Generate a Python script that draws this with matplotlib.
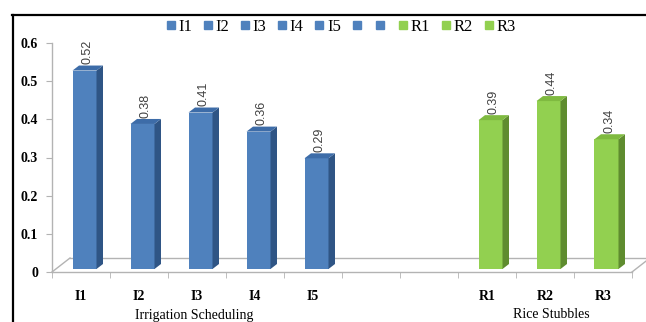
import matplotlib

matplotlib.use("Agg")
import matplotlib.pyplot as plt
from matplotlib.lines import Line2D
from matplotlib.patches import Polygon, Rectangle

# Irrigation scheduling treatments and rice stubble treatments
IRRIGATION = ["I1", "I2", "I3", "I4", "I5"]
IRRIGATION_VALUES = [0.52, 0.38, 0.41, 0.36, 0.29]
RICE = ["R1", "R2", "R3"]
RICE_VALUES = [0.39, 0.44, 0.34]
N_GAP = 2  # empty category slots between the two groups

BLUE = ("#4f81bd", "#2f5585", "#3d6ca8")   # front, side, top
GREEN = ("#92d050", "#5f8c2f", "#7fba40")
FLOOR = "#b3b3b3"
SERIF = "Liberation Serif"

W, H, DPI = 646, 322, 100
AX_L, AX_B, AX_W, AX_H = 52, 50, 580, 229
YMAX = 0.6

categories = IRRIGATION + [""] * N_GAP + RICE
values = IRRIGATION_VALUES + [None] * N_GAP + RICE_VALUES
faces = [BLUE] * (len(IRRIGATION) + N_GAP) + [GREEN] * len(RICE)
n = len(categories)

fig = plt.figure(figsize=(W / DPI, H / DPI), dpi=DPI)
ax = fig.add_axes([AX_L / W, AX_B / H, AX_W / W, AX_H / H])
ax.set_xlim(0, n)
ax.set_ylim(0, YMAX)


def px(dx, dy):
    """pixel offset -> data offset (oblique depth projection)"""
    return dx * n / AX_W, dy * YMAX / AX_H


fx, fy = px(3.5, 3)      # front plane of the bars
bx, by = px(10, 8)       # back plane of the bars
dx, dy = bx - fx, by - fy
half = 12 * n / AX_W     # half bar width

for i, (v, (front, side, top)) in enumerate(zip(values, faces)):
    if v is None:
        continue
    c = i + 0.5
    x0, x1 = c - half + fx, c + half + fx
    y0, y1 = fy, v + fy
    ax.add_patch(Rectangle((x0, y0), x1 - x0, y1 - y0, fc=front, ec="none",
                           clip_on=False, zorder=3))
    ax.add_patch(Polygon([(x1, y0), (x1 + dx, y0 + dy), (x1 + dx, y1 + dy), (x1, y1)],
                         fc=side, ec="none", clip_on=False, zorder=3))
    ax.add_patch(Polygon([(x0, y1), (x1, y1), (x1 + dx, y1 + dy), (x0 + dx, y1 + dy)],
                         fc=top, ec="none", clip_on=False, zorder=3))
    ax.annotate(f"{v:.2f}", (c + fx + dx * 0.4, y1 + dy), xytext=(0, 1),
                textcoords="offset points", rotation=90, ha="center", va="bottom",
                fontsize=9, family="Liberation Sans", color="#404040")

# floor of the 3-D plot area
gx, gy = px(18, 14)
for xs, ys in [([0, gx], [0, gy]), ([n, n + gx], [0, gy]), ([gx, n + gx], [gy, gy])]:
    ax.add_line(Line2D(xs, ys, color=FLOOR, lw=1, clip_on=False, zorder=1))

for s in ["top", "right"]:
    ax.spines[s].set_visible(False)
for s in ["left", "bottom"]:
    ax.spines[s].set_color(FLOOR)
    ax.spines[s].set_linewidth(1)

ax.set_yticks([0, 0.1, 0.2, 0.3, 0.4, 0.5, 0.6])
ax.set_yticklabels(["0", "0.1", "0.2", "0.3", "0.4", "0.5", "0.6"])
ax.set_xticks([i + 0.5 for i in range(n)])
ax.set_xticklabels(categories)
ax.set_xticks(range(n + 1), minor=True)
ax.tick_params(axis="x", which="major", length=0, pad=13)
ax.tick_params(axis="x", which="minor", length=4, color=FLOOR, direction="out")
ax.tick_params(axis="y", length=4, color=FLOOR, pad=6)
for lab in ax.get_xticklabels() + ax.get_yticklabels():
    lab.set_fontfamily(SERIF)
    lab.set_fontweight("bold")
    lab.set_fontsize(10)

# group titles under the axis
fig.text(194 / W, 1 - 315 / H, "Irrigation Scheduling", ha="center", va="center",
         family=SERIF, fontsize=10)
fig.text(551 / W, 1 - 315 / H, "Rice Stubbles", ha="center", va="center",
         family=SERIF, fontsize=10)

handles = [Line2D([], [], marker="s", ls="", markersize=5.5, color=f[0]) for f in faces]
fig.legend(handles, categories, loc="center", bbox_to_anchor=(341 / W, 1 - 27 / H),
           ncol=n, frameon=False, handlelength=0.5, handletextpad=0.2,
           columnspacing=0.7, borderpad=0, prop={"family": SERIF, "size": 12})

# outer frame (top and left edges)
fig.add_artist(Line2D([12 / W, 1], [1 - 15 / H] * 2, transform=fig.transFigure,
                      color="black", lw=1.6))
fig.add_artist(Line2D([13 / W] * 2, [0, 1 - 15 / H], transform=fig.transFigure,
                      color="black", lw=1.6))

fig.savefig("out.png", dpi=DPI)
